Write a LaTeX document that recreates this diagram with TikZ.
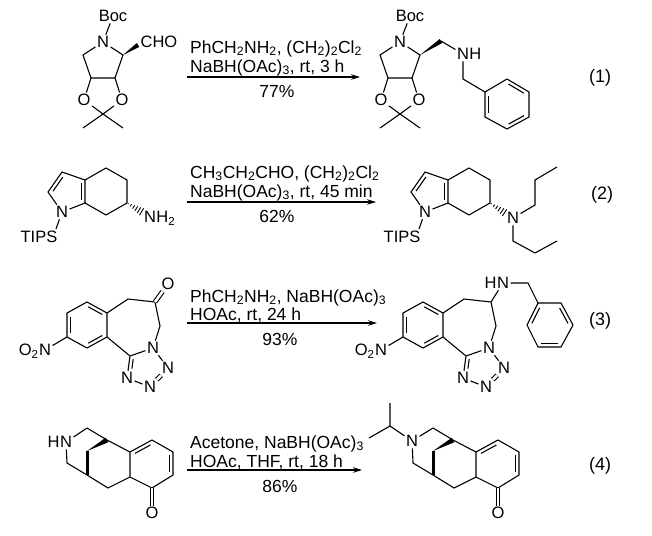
\documentclass[tikz,border=0pt]{standalone}
\usepackage{fontspec}
\setmainfont{Liberation Sans}
\usetikzlibrary{calc,arrows.meta}
\newcommand\sub[1]{\textsubscript{#1}}
% inner double-bond line: ends #1,#2, ring centre #3, fractions #4..#5
\newcommand\dbin[5]{%
  \path ($(#1)!(#3)!(#2)$) coordinate (dbM);
  \path ($(dbM)!3.6pt!(#3)$) coordinate (dbQ);
  \draw[bond] ($(#1)!#4!(#2)+(dbQ)-(dbM)$) -- ($(#1)!#5!(#2)+(dbQ)-(dbM)$);}
% hashed wedge, narrow at #1, wide at #2
\newcommand\hashb[2]{%
  \foreach \hT/\hW in {0.08/0.5pt,0.26/1.2pt,0.44/1.9pt,0.62/2.6pt,0.80/3.3pt,0.97/4pt}{%
    \draw[line width=0.9pt] ($(#1)!\hT!(#2)!\hW!90:(#2)$) -- ($(#1)!\hT!(#2)!\hW!-90:(#2)$);}}
% solid wedge, narrow at #1, wide at #2, half width #3
\newcommand\wedgeb[3]{%
  \fill (#1) -- ($(#2)!#3!90:(#1)$) -- ($(#2)!#3!-90:(#1)$) -- cycle;}
\begin{document}
\begin{tikzpicture}[x=1pt,y=-1pt,
  bond/.style={line width=1.1pt},
  dblc/.style={bond,double,double distance=2.6pt},
  atom/.style={inner sep=1.4pt,font=\fontsize{16.5}{18}\selectfont},
  lbl/.style={inner sep=0pt,font=\fontsize{16.5}{18}\selectfont},
  rgt/.style={inner sep=0pt,anchor=base west,font=\fontsize{17.5}{20}\selectfont},
  yld/.style={inner sep=0pt,anchor=base,font=\fontsize{17.5}{20}\selectfont},
  num/.style={inner sep=0pt,font=\fontsize{18}{20}\selectfont},
  rxn/.style={line width=1.1pt,-{Stealth[length=9pt,width=5.5pt]}},
  boldb/.style={line width=3pt}]
\fill[white] (0,0) rectangle (652,535);
\useasboundingbox (0,0) rectangle (652,535);

%================ Reaction 1 =================
% reactant
\node[atom] (r1boc) at (113,16) {Boc};
\node[atom] (r1n) at (103,42) {N};
\coordinate (r1c2) at (123,55);
\coordinate (r1c3) at (115,78);
\coordinate (r1c4) at (91,78);
\coordinate (r1c5) at (83,55);
\node[atom,anchor=west] (r1cho) at (139,42) {CHO};
\coordinate (r1w) at (138,45);
\node[atom] (r1ol) at (84,100) {O};
\node[atom] (r1or) at (122,100) {O};
\coordinate (r1ac) at (103,114);
\coordinate (r1m1) at (83,128);
\coordinate (r1m2) at (123,128);
\draw[bond] (r1boc)--(r1n) (r1n)--(r1c2)--(r1c3)--(r1c4)--(r1c5)--(r1n)
  (r1c4)--(r1ol) (r1c3)--(r1or) (r1ol)--(r1ac) (r1or)--(r1ac)
  (r1ac)--(r1m1) (r1ac)--(r1m2);
\wedgeb{r1c2}{r1w}{2.3pt}
% arrow 1
\node[rgt] (t1a) at (190,53) {PhCH\sub2NH\sub2, (CH\sub2)\sub2Cl\sub2};
\node[rgt] (t1b) at (190,72) {NaBH(OAc)\sub3, rt, 3 h};
\coordinate (a1s) at (187,77); \coordinate (a1e) at (360,77);
\draw[rxn] (a1s)--(a1e);
\node[yld] (y1) at (277,97) {77\%};
% product
\node[atom] (p1boc) at (410,16) {Boc};
\node[atom] (p1n) at (400,42) {N};
\coordinate (p1c2) at (420,55);
\coordinate (p1c3) at (412,78);
\coordinate (p1c4) at (388,78);
\coordinate (p1c5) at (380,55);
\node[atom] (p1ol) at (381,100) {O};
\node[atom] (p1or) at (419,100) {O};
\coordinate (p1ac) at (400,114);
\coordinate (p1m1) at (380,128);
\coordinate (p1m2) at (420,128);
\coordinate (p1ch2) at (441,41);
\node[atom] (p1nh) at (463,54) {N};
\node[lbl,anchor=base west] (p1h) at ([xshift=-1.4pt]p1nh.base east) {H};
\coordinate (p1cb) at (463,79);
\coordinate (p1a) at (485,92);
\coordinate (p1b) at (507,79);
\coordinate (p1c) at (529,92);
\coordinate (p1d) at (529,117);
\coordinate (p1e) at (507,129);
\coordinate (p1f) at (485,117);
\coordinate (p1o) at (507,104);
\draw[bond] (p1boc)--(p1n) (p1n)--(p1c2)--(p1c3)--(p1c4)--(p1c5)--(p1n)
  (p1c4)--(p1ol) (p1c3)--(p1or) (p1ol)--(p1ac) (p1or)--(p1ac)
  (p1ac)--(p1m1) (p1ac)--(p1m2)
  (p1ch2)--(p1nh) (p1nh)--(p1cb)--(p1a)
  (p1a)--(p1b)--(p1c)--(p1d)--(p1e)--(p1f)--cycle;
\wedgeb{p1c2}{p1ch2}{2.4pt}
\dbin{p1b}{p1c}{p1o}{0.15}{0.85}
\dbin{p1d}{p1e}{p1o}{0.15}{0.85}
\dbin{p1f}{p1a}{p1o}{0.15}{0.85}
\node[num] (n1) at (600,78) {(1)};

%================ Reaction 2 =================
\node[atom] (r2n1) at (62,212) {N};
\coordinate (r2c2) at (48,192);
\coordinate (r2c3) at (62,172);
\coordinate (r2c3a) at (85,180);
\coordinate (r2c7a) at (85,203);
\coordinate (r2c4) at (106,168);
\coordinate (r2c5) at (127,180);
\coordinate (r2c6) at (127,203);
\coordinate (r2c7) at (106,215);
\coordinate (r2o) at (69,192);
\node[atom] (r2nh) at (150,217) {N};
\node[lbl,anchor=base west] (r2h) at ([xshift=-1.4pt]r2nh.base east) {H\sub2};
\coordinate (r2he) at (142,212);
\node[lbl] (r2tips) at (39,237) {TIPS};
\coordinate (r2ts) at (56,229);
\draw[bond] (r2n1)--(r2c2)--(r2c3)--(r2c3a)--(r2c7a)--(r2n1)
  (r2c3a)--(r2c4)--(r2c5)--(r2c6)--(r2c7)--(r2c7a)
  (r2n1)--(r2ts);
\dbin{r2c2}{r2c3}{r2o}{0.15}{0.85}
\dbin{r2c3a}{r2c7a}{r2o}{0.15}{0.85}
\hashb{r2c6}{r2he}
% arrow 2
\node[rgt] (t2a) at (190,178) {CH\sub3CH\sub2CHO, (CH\sub2)\sub2Cl\sub2};
\node[rgt] (t2b) at (190,197) {NaBH(OAc)\sub3, rt, 45 min};
\coordinate (a2s) at (187,202); \coordinate (a2e) at (376,202);
\draw[rxn] (a2s)--(a2e);
\node[yld] (y2) at (277,222) {62\%};
% product
\node[atom] (p2n1) at (425,212) {N};
\coordinate (p2c2) at (411,192);
\coordinate (p2c3) at (425,172);
\coordinate (p2c3a) at (448,180);
\coordinate (p2c7a) at (448,203);
\coordinate (p2c4) at (469,168);
\coordinate (p2c5) at (490,180);
\coordinate (p2c6) at (490,203);
\coordinate (p2c7) at (469,215);
\coordinate (p2o) at (432,192);
\node[atom] (p2n) at (513,218) {N};
\coordinate (p2he) at (505,213);
\coordinate (p2a) at (535,205);
\coordinate (p2b) at (535,180);
\coordinate (p2c) at (557,167);
\coordinate (p2d) at (513,241);
\coordinate (p2e) at (535,253);
\coordinate (p2f) at (557,241);
\node[lbl] (p2tips) at (402,237) {TIPS};
\coordinate (p2ts) at (419,229);
\draw[bond] (p2n1)--(p2c2)--(p2c3)--(p2c3a)--(p2c7a)--(p2n1)
  (p2c3a)--(p2c4)--(p2c5)--(p2c6)--(p2c7)--(p2c7a)
  (p2n1)--(p2ts)
  (p2n)--(p2a)--(p2b)--(p2c) (p2n)--(p2d)--(p2e)--(p2f);
\dbin{p2c2}{p2c3}{p2o}{0.15}{0.85}
\dbin{p2c3a}{p2c7a}{p2o}{0.15}{0.85}
\hashb{p2c6}{p2he}
\node[num] (n2) at (602,195) {(2)};

%================ Reaction 3 =================
\coordinate (r3b1) at (87,302);
\coordinate (r3b2) at (107,313);
\coordinate (r3b3) at (107,337);
\coordinate (r3b4) at (87,348);
\coordinate (r3b5) at (67,337);
\coordinate (r3b6) at (67,313);
\coordinate (r3bo) at (87,325);
\node[atom] (r3no) at (45,350) {N};
\node[lbl,anchor=base east] (r3o2) at ([xshift=1.4pt]r3no.base west) {O\sub2};
\coordinate (r3ca) at (128,299);
\coordinate (r3co) at (155,302);
\node[atom] (r3o) at (168,284) {O};
\coordinate (r3cb) at (160,326);
\node[atom] (r3n1) at (153,348) {N};
\coordinate (r3c5) at (130,356);
\node[atom] (r3n4) at (127,378) {N};
\node[atom] (r3n3) at (150,387) {N};
\node[atom] (r3n2) at (168,368) {N};
\coordinate (r3to) at (146,365);
\draw[bond] (r3b1)--(r3b2)--(r3b3)--(r3b4)--(r3b5)--(r3b6)--cycle
  (r3b5)--(r3no)
  (r3b2)--(r3ca)--(r3co)--(r3cb)--(r3n1) (r3n1)--(r3c5)--(r3b3)
  (r3c5)--(r3n4) (r3n4)--(r3n3) (r3n2)--(r3n1);
\draw[dblc] (r3co)--(r3o);
\draw[dblc] (r3n2)--(r3n3);
\dbin{r3b1}{r3b2}{r3bo}{0.15}{0.85}
\dbin{r3b3}{r3b4}{r3bo}{0.15}{0.85}
\dbin{r3b5}{r3b6}{r3bo}{0.15}{0.85}
\dbin{r3c5}{r3n4}{r3to}{0.12}{0.55}
% arrow 3
\node[rgt] (t3a) at (190,302) {PhCH\sub2NH\sub2, NaBH(OAc)\sub3};
\node[rgt] (t3b) at (190,320) {HOAc, rt, 24 h};
\coordinate (a3s) at (187,323); \coordinate (a3e) at (377,323);
\draw[rxn] (a3s)--(a3e);
\node[yld] (y3) at (280,345) {93\%};
% product
\coordinate (p3b1) at (423,302);
\coordinate (p3b2) at (443,313);
\coordinate (p3b3) at (443,337);
\coordinate (p3b4) at (423,348);
\coordinate (p3b5) at (403,337);
\coordinate (p3b6) at (403,313);
\coordinate (p3bo) at (423,325);
\node[atom] (p3no) at (381,350) {N};
\node[lbl,anchor=base east] (p3o2) at ([xshift=1.4pt]p3no.base west) {O\sub2};
\coordinate (p3ca) at (464,299);
\coordinate (p3ch) at (491,302);
\coordinate (p3cb) at (496,326);
\node[atom] (p3n1) at (489,348) {N};
\coordinate (p3c5) at (466,356);
\node[atom] (p3n4) at (463,378) {N};
\node[atom] (p3n3) at (486,387) {N};
\node[atom] (p3n2) at (504,368) {N};
\coordinate (p3to) at (482,365);
\node[atom] (p3nh) at (503,283) {N};
\node[lbl,anchor=base east] (p3h) at ([xshift=1.4pt]p3nh.base west) {H};
\coordinate (p3cc) at (528,283);
\coordinate (p3v1) at (538,303);
\coordinate (p3v2) at (561,303);
\coordinate (p3v3) at (573,325);
\coordinate (p3v4) at (561,347);
\coordinate (p3v5) at (538,347);
\coordinate (p3v6) at (527,325);
\coordinate (p3vo) at (550,325);
\draw[bond] (p3b1)--(p3b2)--(p3b3)--(p3b4)--(p3b5)--(p3b6)--cycle
  (p3b5)--(p3no)
  (p3b2)--(p3ca)--(p3ch)--(p3cb)--(p3n1) (p3n1)--(p3c5)--(p3b3)
  (p3c5)--(p3n4) (p3n4)--(p3n3) (p3n2)--(p3n1)
  (p3ch)--(p3nh) (p3nh)--(p3cc)--(p3v1)
  (p3v1)--(p3v2)--(p3v3)--(p3v4)--(p3v5)--(p3v6)--cycle;
\draw[dblc] (p3n2)--(p3n3);
\dbin{p3b1}{p3b2}{p3bo}{0.15}{0.85}
\dbin{p3b3}{p3b4}{p3bo}{0.15}{0.85}
\dbin{p3b5}{p3b6}{p3bo}{0.15}{0.85}
\dbin{p3c5}{p3n4}{p3to}{0.12}{0.55}
\dbin{p3v6}{p3v1}{p3vo}{0.15}{0.85}
\dbin{p3v2}{p3v3}{p3vo}{0.15}{0.85}
\dbin{p3v4}{p3v5}{p3vo}{0.15}{0.85}
\node[num] (n3) at (600,321) {(3)};

%================ Reaction 4 =================
\node[atom] (r4n) at (66,442) {N};
\node[lbl,anchor=base east] (r4h) at ([xshift=1.4pt]r4n.base west) {H};
\coordinate (r4u) at (87,428);
\coordinate (r4ca) at (107,440);
\coordinate (r4c9) at (87,451);
\coordinate (r4cb) at (87,475);
\coordinate (r4l) at (67,463);
\coordinate (r4r) at (108,488);
\coordinate (r4fb) at (130,477);
\coordinate (r4ft) at (130,452);
\coordinate (r4t) at (152,440);
\coordinate (r4r1) at (173,452);
\coordinate (r4r2) at (173,475);
\coordinate (r4co) at (152,488);
\coordinate (r4ro) at (152,464);
\node[atom] (r4o) at (152,513) {O};
\draw[bond] (r4n)--(r4u)--(r4ca)--(r4ft)--(r4fb)--(r4r)--(r4cb)--(r4l)--(r4n)
  (r4ft)--(r4t)--(r4r1)--(r4r2)--(r4co)--(r4fb);
\draw[dblc] (r4co)--(r4o);
\dbin{r4ft}{r4t}{r4ro}{0.15}{0.85}
\dbin{r4r1}{r4r2}{r4ro}{0.15}{0.85}
\wedgeb{r4c9}{r4ca}{2.6pt}
\draw[boldb] (r4c9)--(r4cb);
% arrow 4
\node[rgt] (t4a) at (190,448) {Acetone, NaBH(OAc)\sub3};
\node[rgt] (t4b) at (190,467) {HOAc, THF, rt, 18 h};
\coordinate (a4s) at (187,470); \coordinate (a4e) at (362,470);
\draw[rxn] (a4s)--(a4e);
\node[yld] (y4) at (280,492) {86\%};
% product
\node[atom] (p4n) at (412,441) {N};
\coordinate (p4ip) at (390,426);
\coordinate (p4m1) at (390,403);
\coordinate (p4m2) at (369,438);
\coordinate (p4u) at (433,428);
\coordinate (p4ca) at (453,440);
\coordinate (p4c9) at (433,451);
\coordinate (p4cb) at (433,475);
\coordinate (p4l) at (413,463);
\coordinate (p4r) at (454,488);
\coordinate (p4fb) at (476,477);
\coordinate (p4ft) at (476,452);
\coordinate (p4t) at (498,440);
\coordinate (p4r1) at (519,452);
\coordinate (p4r2) at (519,475);
\coordinate (p4co) at (498,488);
\coordinate (p4ro) at (498,464);
\node[atom] (p4o) at (498,513) {O};
\draw[bond] (p4n)--(p4u)--(p4ca)--(p4ft)--(p4fb)--(p4r)--(p4cb)--(p4l)--(p4n)
  (p4ft)--(p4t)--(p4r1)--(p4r2)--(p4co)--(p4fb)
  (p4n)--(p4ip) (p4ip)--(p4m1) (p4ip)--(p4m2);
\draw[dblc] (p4co)--(p4o);
\dbin{p4ft}{p4t}{p4ro}{0.15}{0.85}
\dbin{p4r1}{p4r2}{p4ro}{0.15}{0.85}
\wedgeb{p4c9}{p4ca}{2.6pt}
\draw[boldb] (p4c9)--(p4cb);
\node[num] (n4) at (600,466) {(4)};
\end{tikzpicture}
\end{document}
